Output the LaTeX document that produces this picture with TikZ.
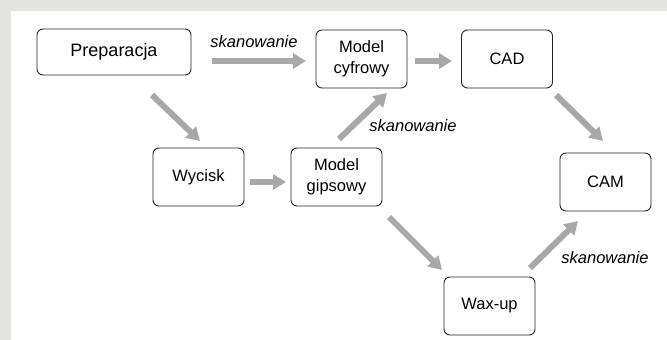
\documentclass[tikz,border=0pt]{standalone}
\usepackage{fontspec}
\setmainfont{Liberation Sans}
\usetikzlibrary{arrows.meta}
\definecolor{framegray}{RGB}{228,228,224}
\definecolor{arrgray}{RGB}{168,168,168}
\begin{document}
\begin{tikzpicture}[x=1pt,y=-1pt,
  box/.style={draw=black!85, line width=0.9pt, rounded corners=6pt, fill=white,
    align=center, inner sep=0pt, minimum width=91pt, minimum height=58pt,
    font=\fontsize{16.5}{21}\selectfont},
  flow/.style={draw=arrgray, line width=6pt,
    -{Triangle[width=15pt,length=13pt]}},
  lbl/.style={font=\fontsize{16.5}{18}\selectfont\itshape, inner sep=0pt}]
\fill[framegray] (0,0) rectangle (667,340);
\fill[white] (11,11) rectangle (667,340);
\useasboundingbox (0,0) rectangle (667,340);

\node[box, minimum width=154pt, minimum height=46pt,
  font=\fontsize{18}{21}\selectfont] (prep) at (114,52) {Preparacja};
\node[box] (cyf) at (361.5,59) {Model\\cyfrowy};
\node[box] (cad) at (507,59) {CAD};
\node[box] (wyc) at (198.5,177) {Wycisk};
\node[box] (gips) at (336.5,177) {Model\\gipsowy};
\node[box] (cam) at (605.5,182) {CAM};
\node[box] (wax) at (489.5,306) {Wax-up};

\coordinate (a1s) at (212,61);   \coordinate (a1e) at (306,61);
\coordinate (a2s) at (415,61);   \coordinate (a2e) at (452,61);
\coordinate (a3s) at (152,95);   \coordinate (a3e) at (200,141);
\coordinate (a4s) at (250,182);  \coordinate (a4e) at (286,182);
\coordinate (a5s) at (339,139);  \coordinate (a5e) at (387,93);
\coordinate (a6s) at (556,95);   \coordinate (a6e) at (603,141);
\coordinate (a7s) at (389,217);  \coordinate (a7e) at (442,270);
\coordinate (a8s) at (530,268);  \coordinate (a8e) at (578,221);

\draw[flow] (a1s) -- (a1e);
\draw[flow] (a2s) -- (a2e);
\draw[flow] (a3s) -- (a3e);
\draw[flow] (a4s) -- (a4e);
\draw[flow] (a5s) -- (a5e);
\draw[flow] (a6s) -- (a6e);
\draw[flow] (a7s) -- (a7e);
\draw[flow] (a8s) -- (a8e);

\node[lbl] (l1) at (254,42) {skanowanie};
\node[lbl] (l2) at (413,126) {skanowanie};
\node[lbl] (l3) at (605,258) {skanowanie};
\end{tikzpicture}
\end{document}
